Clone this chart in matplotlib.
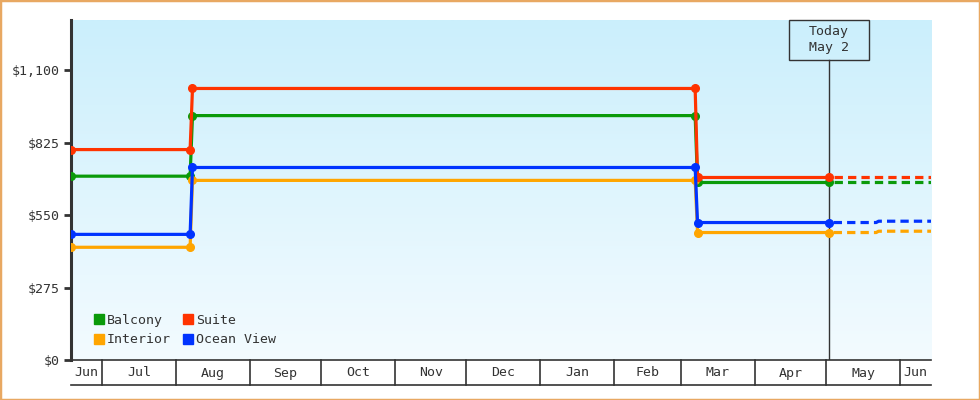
import matplotlib.pyplot as plt
import matplotlib.dates as mdates
import numpy as np
from datetime import datetime
from matplotlib.colors import LinearSegmentedColormap
from matplotlib.patches import Rectangle
from matplotlib.lines import Line2D
from matplotlib.transforms import blended_transform_factory, ScaledTranslation

# observed price points
dates = [datetime(2024, 6, 18), datetime(2024, 8, 7), datetime(2024, 8, 8),
         datetime(2025, 3, 7), datetime(2025, 3, 8), datetime(2025, 5, 2)]
balcony = [698, 698, 928, 928, 674, 674]
suite = [799, 799, 1031, 1031, 693, 693]
ocean_view = [477, 477, 731, 731, 522, 522]
interior = [428, 428, 682, 682, 484, 484]

# forecast (dotted)
fc_dates = [datetime(2025, 5, 2), datetime(2025, 5, 22), datetime(2025, 5, 23), datetime(2025, 6, 14)]
fc_balcony = [674, 674, 674, 674]
fc_suite = [693, 693, 693, 693]
fc_ocean_view = [522, 522, 527, 527]
fc_interior = [484, 484, 489, 489]

yticks = [0, 275, 550, 825, 1100]
ytick_labels = ["$0", "$275", "$550", "$825", "$1,100"]
month_edges = [datetime(2024, 6, 18)] + [datetime(2024 + (m > 12), (m - 1) % 12 + 1, 1) for m in range(7, 19)] + [datetime(2025, 6, 14)]
month_labels = ["Jun", "Jul", "Aug", "Sep", "Oct", "Nov", "Dec", "Jan", "Feb", "Mar", "Apr", "May", "Jun"]
today = datetime(2025, 5, 2)

# legend is filled column by column: Balcony/Interior, then Suite/Ocean View
series = [
    ("Balcony", balcony, fc_balcony, "#0a9a0a"),
    ("Interior", interior, fc_interior, "#ffa500"),
    ("Suite", suite, fc_suite, "#ff3300"),
    ("Ocean View", ocean_view, fc_ocean_view, "#0033ff"),
]

plt.rcParams["font.family"] = ["DejaVu Sans Mono"]
txt = "#333333"

fig = plt.figure(figsize=(9.8, 4), dpi=100)
ax = fig.add_axes([71 / 980, 40 / 400, 860 / 980, 340 / 400])

# gradient background
cmap = LinearSegmentedColormap.from_list("bg", ["#f3fbff", "#cbeffc"])
ax.imshow(np.linspace(0, 1, 256).reshape(-1, 1), extent=[0, 1, 0, 1], transform=ax.transAxes,
          cmap=cmap, aspect="auto", origin="lower", zorder=0)

for name, vals, fc, col in series:
    ax.plot(dates, vals, color=col, lw=2.3, marker="o", ms=5.5, zorder=3)
    ax.plot(fc_dates, fc, color=col, lw=2.3, linestyle=(2.6, (2.6, 1.6)), zorder=3)

ax.set_xlim(mdates.date2num(month_edges[0]), mdates.date2num(month_edges[-1]))
ax.set_ylim(0, 1291)

for s in ["top", "right"]:
    ax.spines[s].set_visible(False)
ax.spines["left"].set_color(txt)
ax.spines["left"].set_linewidth(2.2)
ax.spines["bottom"].set_color(txt)
ax.spines["bottom"].set_linewidth(1.2)

ax.set_yticks(yticks)
ax.set_yticklabels(ytick_labels)
ax.tick_params(axis="y", direction="out", length=5, width=2, color=txt, labelcolor=txt, labelsize=9.5, pad=3)
ax.set_xticks([])

# month cells below the axis
bt = blended_transform_factory(ax.transData, ax.transAxes)
cell_bottom = -25 / 340
ax.plot([0, 1], [cell_bottom, cell_bottom], transform=ax.transAxes, color=txt, lw=1.2, clip_on=False)
for e in month_edges[1:-1]:
    ax.plot([e, e], [0, cell_bottom], transform=bt, color=txt, lw=1.2, clip_on=False)
for i, lab in enumerate(month_labels):
    mid = (mdates.date2num(month_edges[i]) + mdates.date2num(month_edges[i + 1])) / 2
    ax.text(mid, -13 / 340, lab, transform=bt, ha="center", va="center", fontsize=9.5, color=txt)

# today marker
box_h = 40 / 340
ax.plot([today, today], [0, 1 - box_h], transform=bt, color=txt, lw=1, zorder=2)
box_tr = fig.dpi_scale_trans + ScaledTranslation(mdates.date2num(today), 1.0, bt)
ax.add_patch(Rectangle((-0.4, -0.4), 0.8, 0.4, transform=box_tr, fill=False,
                       edgecolor=txt, lw=1, clip_on=False, zorder=4))
ax.text(today, 1 - box_h / 2, "Today\nMay 2", transform=bt, ha="center", va="center",
        fontsize=9.5, color=txt, linespacing=1.3, zorder=5)

handles = [Line2D([], [], marker="s", ls="none", color=c, ms=7.5) for _, _, _, c in series]
ax.legend(handles, [n for n, _, _, _ in series], ncol=2, loc="lower left",
          bbox_to_anchor=(0.013, 0.005), frameon=False, fontsize=9.5, handlelength=0.7,
          handletextpad=0.25, columnspacing=1.0, labelspacing=0.5, labelcolor=txt)

fig.add_artist(Rectangle((0, 0), 1, 1, transform=fig.transFigure, fill=False,
                         edgecolor="#e8a862", lw=2.5))

fig.savefig("out.png", dpi=100)
